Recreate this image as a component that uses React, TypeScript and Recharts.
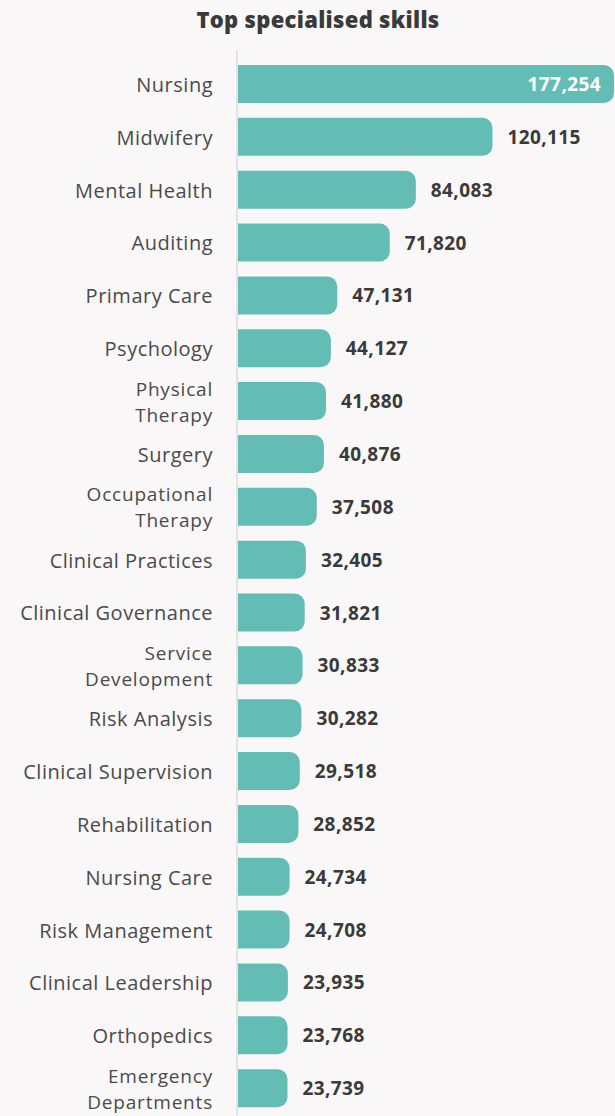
import React from "react";
import { BarChart, Bar, XAxis, YAxis, LabelList } from "recharts";

const categories = [
  "Nursing",
  "Midwifery",
  "Mental Health",
  "Auditing",
  "Primary Care",
  "Psychology",
  "Physical Therapy",
  "Surgery",
  "Occupational Therapy",
  "Clinical Practices",
  "Clinical Governance",
  "Service Development",
  "Risk Analysis",
  "Clinical Supervision",
  "Rehabilitation",
  "Nursing Care",
  "Risk Management",
  "Clinical Leadership",
  "Orthopedics",
  "Emergency Departments",
];

const values = [
  177254, 120115, 84083, 71820, 47131, 44127, 41880, 40876, 37508, 32405,
  31821, 30833, 30282, 29518, 28852, 24734, 24708, 23935, 23768, 23739,
];

const twoLineLabels = [
  "Physical Therapy",
  "Occupational Therapy",
  "Service Development",
  "Emergency Departments",
];

const title = "Top specialised skills";

const data = categories.map((name, i) => ({ name, value: values[i] }));
const maxValue = Math.max(...values);

const FONT = "'Open Sans', Lato, sans-serif";
const BAR = "#64bdb5";
const LABEL = "#4a4a4a";
const DARK = "#3a3a3a";
const BG = "#f9f7f8";

const fmt = (v: number) => v.toLocaleString("en-US");

const CategoryTick = (props: any) => {
  const { x, y, payload } = props;
  const name: string = payload.value;
  const wrap = twoLineLabels.includes(name);
  const lines = wrap
    ? [name.slice(0, name.indexOf(" ")), name.slice(name.indexOf(" ") + 1)]
    : [name];
  const lh = 26;
  const fs = wrap ? 19 : 20;
  const start = -((lines.length - 1) * lh) / 2;
  return (
    <g>
      {lines.map((l, i) => (
        <text
          key={i}
          x={x - 16}
          y={y + start + i * lh}
          textAnchor="end"
          dominantBaseline="central"
          fill={LABEL}
          fontSize={fs}
          letterSpacing={wrap ? 0.8 : 0.5}
          fontFamily={FONT}
        >
          {l}
        </text>
      ))}
    </g>
  );
};

const ValueLabel = (props: any) => {
  const { x, y, width, height, value } = props;
  const inside = value === maxValue;
  return (
    <text
      x={inside ? x + width - 13 : x + width + 15}
      y={y + height / 2}
      textAnchor={inside ? "end" : "start"}
      dominantBaseline="central"
      fill={inside ? "#ffffff" : DARK}
      fontSize={19}
      letterSpacing={0.4}
      fontWeight={700}
      fontFamily={FONT}
    >
      {fmt(value)}
    </text>
  );
};

export default function App() {
  return (
    <div
      style={{
        position: "absolute",
        left: 0,
        top: 0,
        width: 615,
        height: 1116,
        background: BG,
        overflow: "hidden",
      }}
    >
      <div
        style={{
          position: "absolute",
          left: 0,
          width: 636,
          top: 4,
          textAlign: "center",
          fontFamily: FONT,
          fontWeight: 800,
          fontSize: 22,
          letterSpacing: 0.3,
          color: DARK,
          lineHeight: "30px",
        }}
      >
        {title}
      </div>
      <BarChart
        width={615}
        height={1116}
        data={data}
        layout="vertical"
        margin={{ top: 50, right: 1, bottom: 1, left: 0 }}
        barSize={38}
      >
        <XAxis type="number" hide domain={[0, maxValue]} />
        <YAxis
          type="category"
          dataKey="name"
          width={237}
          tickLine={false}
          axisLine={{ stroke: "#e4e2e3", strokeWidth: 2 }}
          tick={<CategoryTick />}
          interval={0}
          padding={{ top: 8, bottom: 0 }}
        />
        <Bar
          dataKey="value"
          fill={BAR}
          radius={[0, 10, 10, 0]}
          isAnimationActive={false}
        >
          <LabelList dataKey="value" content={<ValueLabel />} />
        </Bar>
      </BarChart>
    </div>
  );
}
